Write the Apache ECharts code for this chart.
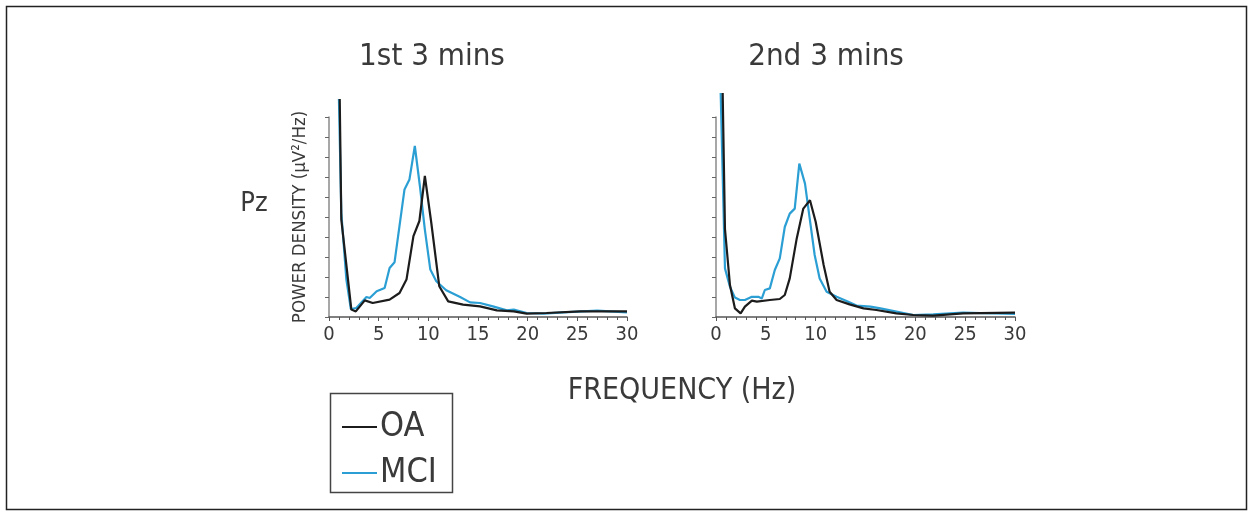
<!DOCTYPE html>
<html>
<head>
<meta charset="utf-8">
<script src="https://cdn.jsdelivr.net/npm/echarts@6/dist/echarts.min.js"></script>
<style>
html,body{margin:0;padding:0;background:#fff;}
#c{width:1252px;height:520px;}
</style>
</head>
<body>
<div id="c"></div>
<script>
// ---- data (frequency in Hz, power density in arbitrary tick units) ----
var panelTitles = ['1st 3 mins', '2nd 3 mins'];
var seriesNames = ['OA', 'MCI'];
var xTickLabels = [0, 5, 10, 15, 20, 25, 30];

// 1st 3 mins
var oaFreq1 = [1.08, 1.24, 2.25, 2.7, 3.6, 4.4, 6.1, 7.1, 7.8, 8.5, 9.1, 9.65, 10.3, 11.1, 12.0, 13.5, 15.2, 16.9, 18.6, 19.9, 21.9, 25.3, 30];
var oaPow1  = [10.9, 4.87, 0.37, 0.28, 0.83, 0.70, 0.87, 1.2, 1.87, 4.04, 4.8, 7.05, 4.7, 1.54, 0.78, 0.62, 0.53, 0.33, 0.28, 0.17, 0.2, 0.28, 0.28];
var mciFreq1 = [1.0, 1.24, 1.75, 2.2, 2.75, 3.77, 4.1, 4.8, 5.6, 6.1, 6.6, 7.6, 8.1, 8.64, 9.15, 9.65, 10.2, 10.8, 11.8, 13.2, 14.2, 15.2, 16.5, 17.9, 18.6, 19.9, 21.6, 23.6, 27, 30];
var mciPow1  = [10.9, 5.2, 1.87, 0.4, 0.45, 1.0, 0.95, 1.29, 1.45, 2.45, 2.74, 6.38, 6.88, 8.55, 6.55, 4.37, 2.37, 1.79, 1.34, 1.0, 0.73, 0.7, 0.53, 0.33, 0.37, 0.2, 0.17, 0.23, 0.32, 0.23];

// 2nd 3 mins
var oaFreq2 = [0.67, 0.9, 1.4, 1.9, 2.47, 2.9, 3.6, 4.1, 5.4, 6.4, 6.9, 7.4, 8.1, 8.76, 9.43, 10.0, 10.8, 11.4, 12.1, 13.4, 14.8, 16.1, 18.1, 19.8, 21.8, 24.8, 30];
var oaPow2  = [11.2, 4.4, 1.6, 0.43, 0.18, 0.52, 0.82, 0.77, 0.85, 0.9, 1.1, 1.93, 3.93, 5.42, 5.84, 4.76, 2.6, 1.26, 0.85, 0.63, 0.43, 0.35, 0.18, 0.1, 0.07, 0.18, 0.22];
var mciFreq2 = [0.47, 0.9, 1.4, 1.9, 2.4, 2.9, 3.6, 4.25, 4.6, 4.9, 5.4, 5.9, 6.4, 6.9, 7.4, 7.9, 8.36, 8.93, 9.4, 9.9, 10.4, 11.1, 12.1, 13.1, 14.1, 15.5, 16.5, 18.1, 19.8, 21.8, 24.8, 30];
var mciPow2  = [11.2, 2.43, 1.51, 0.97, 0.85, 0.85, 1.01, 1.01, 0.93, 1.35, 1.43, 2.35, 2.93, 4.5, 5.17, 5.42, 7.67, 6.67, 4.93, 3.1, 1.93, 1.26, 1.01, 0.8, 0.57, 0.52, 0.43, 0.27, 0.1, 0.13, 0.22, 0.15];

function pairs(xs, ys) { return xs.map(function (x, i) { return [x, ys[i]]; }); }

var FONT = '"DejaVu Sans Condensed", "Liberation Sans Narrow", sans-serif';
var TXT = '#3a3a3a';
var BLACK = '#1c1c1c';
var BLUE = '#2b9fd4';

var chart = echarts.init(document.getElementById('c'), null, { renderer: 'canvas' });

function xAxisCfg(gi) {
  return {
    type: 'value', gridIndex: gi, min: 0, max: 30, interval: 5,
    axisLine: { lineStyle: { color: '#555', width: 1.5 } },
    axisTick: { show: true, length: 4, lineStyle: { color: '#555' } },
    minorTick: { show: true, splitNumber: 5, length: 3, lineStyle: { color: '#555' } },
    splitLine: { show: false },
    axisLabel: {
      fontFamily: FONT, fontSize: 20, color: TXT, margin: 8,
      formatter: function (v) { return xTickLabels.indexOf(v) >= 0 ? String(v) : ''; }
    }
  };
}
function yAxisCfg(gi, withName) {
  var c = {
    type: 'value', gridIndex: gi, min: 0, max: 10, interval: 1,
    axisLine: { show: true, lineStyle: { color: '#8a8a8a', width: 1.5 } },
    axisTick: { show: true, length: 4, lineStyle: { color: '#666' } },
    axisLabel: { show: false },
    splitLine: { show: false }
  };
  if (withName) {
    c.name = 'POWER DENSITY (\u03bcV\u00b2/Hz)';
    c.nameLocation = 'middle';
    c.nameRotate = 90;
    c.nameGap = 19;
    c.nameTextStyle = { fontFamily: FONT, fontSize: 18.5, color: TXT };
  }
  return c;
}
function lineSeries(name, gi, data, color) {
  return {
    name: name, type: 'line', xAxisIndex: gi, yAxisIndex: gi,
    data: data, showSymbol: false, symbol: 'none', clip: false,
    lineStyle: { color: color, width: 2.2 }, itemStyle: { color: color },
    z: name === 'OA' ? 3 : 2
  };
}

var option = {
  backgroundColor: '#fff',
  animation: false,
  grid: [
    { left: 329, top: 117, width: 298, height: 200 },
    { left: 716, top: 117, width: 299, height: 200 }
  ],
  xAxis: [xAxisCfg(0), xAxisCfg(1)],
  yAxis: [yAxisCfg(0, true), yAxisCfg(1, false)],
  legend: {
    data: seriesNames.map(function (n) { return { name: n, icon: 'rect' }; }),
    orient: 'vertical', left: 337, top: 404,
    itemWidth: 35, itemHeight: 2, itemGap: 10,
    textStyle: { fontFamily: FONT, fontSize: 34, color: TXT, lineHeight: 36, padding: [0, 0, 0, -2] },
    selectedMode: false
  },
  graphic: [
    { type: 'rect', shape: { x: 6.5, y: 6.5, width: 1240, height: 503 }, style: { fill: 'none', stroke: '#222', lineWidth: 1.5 }, silent: true },
    { type: 'rect', shape: { x: 330.5, y: 393.5, width: 122, height: 99 }, style: { fill: 'none', stroke: '#444', lineWidth: 1.5 }, silent: true },
    { type: 'text', x: 432, y: 57, style: { text: panelTitles[0], font: '31px ' + FONT, fill: TXT, textAlign: 'center', textVerticalAlign: 'middle' } },
    { type: 'text', x: 826, y: 57, style: { text: panelTitles[1], font: '31px ' + FONT, fill: TXT, textAlign: 'center', textVerticalAlign: 'middle' } },
    { type: 'text', x: 254, y: 204, style: { text: 'Pz', font: '27px ' + FONT, fill: TXT, textAlign: 'center', textVerticalAlign: 'middle' } },
    { type: 'text', x: 682, y: 391, style: { text: 'FREQUENCY (Hz)', font: '30px ' + FONT, fill: TXT, textAlign: 'center', textVerticalAlign: 'middle' } }
  ],
  series: [
    lineSeries('MCI', 0, pairs(mciFreq1, mciPow1), BLUE),
    lineSeries('OA', 0, pairs(oaFreq1, oaPow1), BLACK),
    lineSeries('MCI', 1, pairs(mciFreq2, mciPow2), BLUE),
    lineSeries('OA', 1, pairs(oaFreq2, oaPow2), BLACK)
  ]
};
chart.setOption(option);
</script>
</body>
</html>
